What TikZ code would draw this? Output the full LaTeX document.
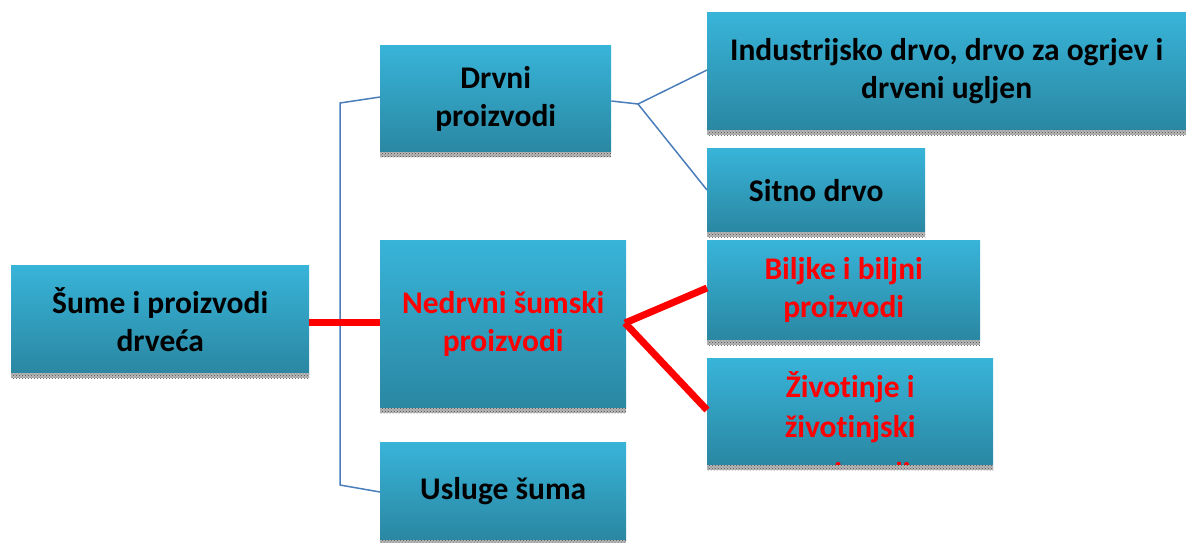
\documentclass[tikz,border=0pt]{standalone}
\usepackage{fontspec}
\setmainfont{Carlito}[Ligatures={NoCommon}]
\usetikzlibrary{patterns}
\definecolor{boxtop}{HTML}{38B4D9}
\definecolor{boxbot}{HTML}{2A87A2}
\definecolor{lineblue}{HTML}{4A7EBB}
\definecolor{shad}{HTML}{B8B8B8}
\tikzset{
  box/.style={anchor=north west, inner sep=2pt, top color=boxtop, bottom color=boxbot,
    draw=none, align=center, font=\fontsize{31.5}{38}\selectfont\bfseries},
  redtxt/.style={text=red},
  thin link/.style={draw=lineblue, line width=1.5pt},
  thick link/.style={draw=red, line width=7pt}
}
\newcommand{\shadowbelow}[1]{%
  \fill[shad] (#1.south west) rectangle ([yshift=-5pt]#1.south east);
  \fill[pattern=crosshatch dots, pattern color=gray!60!black] (#1.south west) rectangle ([yshift=-5pt]#1.south east);}
\begin{document}
\begin{tikzpicture}[x=1pt,y=-1pt]
\useasboundingbox (0,0) rectangle (1186,542);
% boxes
\node[box, minimum width=298pt, minimum height=108pt] (root) at (11,265) {Šume i proizvodi\\drveća};
\node[box, minimum width=231pt, minimum height=107pt] (drvni) at (380,45) {Drvni\\proizvodi};
\node[box, minimum width=246pt, minimum height=168pt, redtxt] (nedrvni) at (380,240) {Nedrvni šumski\\proizvodi};
\node[box, minimum width=246pt, minimum height=98pt] (usluge) at (380,442) {Usluge šuma};
\node[box, minimum width=479pt, minimum height=118pt] (ind) at (707,12) {Industrijsko drvo, drvo za ogrjev i\\drveni ugljen};
\node[box, minimum width=218pt, minimum height=84pt] (sitno) at (707,148) {Sitno drvo};
\node[box, minimum width=273pt, minimum height=100pt, redtxt] (biljke) at (707,240) {Biljke i biljni\\proizvodi};
\node[box, minimum width=286pt, minimum height=107pt] (ziv) at (707,358) {};
\begin{scope}
  \clip (ziv.north west) rectangle (ziv.south east);
  \node[anchor=north, align=center, text=red, font=\fontsize{31.5}{40}\selectfont\bfseries, inner sep=0pt] (zivtxt) at ([yshift=-13pt]ziv.north) {Životinje i\\životinjski\\[7pt]proizvodi};
\end{scope}
% shadows
\foreach \n in {root,drvni,nedrvni,usluge,ind,sitno,biljke,ziv} {\shadowbelow{\n}}
% connectors
\coordinate (vtop) at (340,103);
\coordinate (vbot) at (340,485);
\coordinate (fork1) at (638,104);
\coordinate (fork2) at (625,323);
\draw[thin link] ([yshift=-52pt]drvni.north west) -- (vtop) -- (vbot) -- ([yshift=-50pt]usluge.north west);
\draw[thick link] (root.east |- 0,322) -- (nedrvni.west |- 0,322);
\draw[thin link] ([yshift=-56pt]drvni.north east) -- (fork1) -- ([yshift=-58pt]ind.north west);
\draw[thin link] (fork1) -- ([yshift=-42pt]sitno.north west);
\draw[thick link] (fork2) -- ([yshift=-48pt]biljke.north west);
\draw[thick link] (fork2) -- ([yshift=-52pt]ziv.north west);
\end{tikzpicture}
\end{document}
